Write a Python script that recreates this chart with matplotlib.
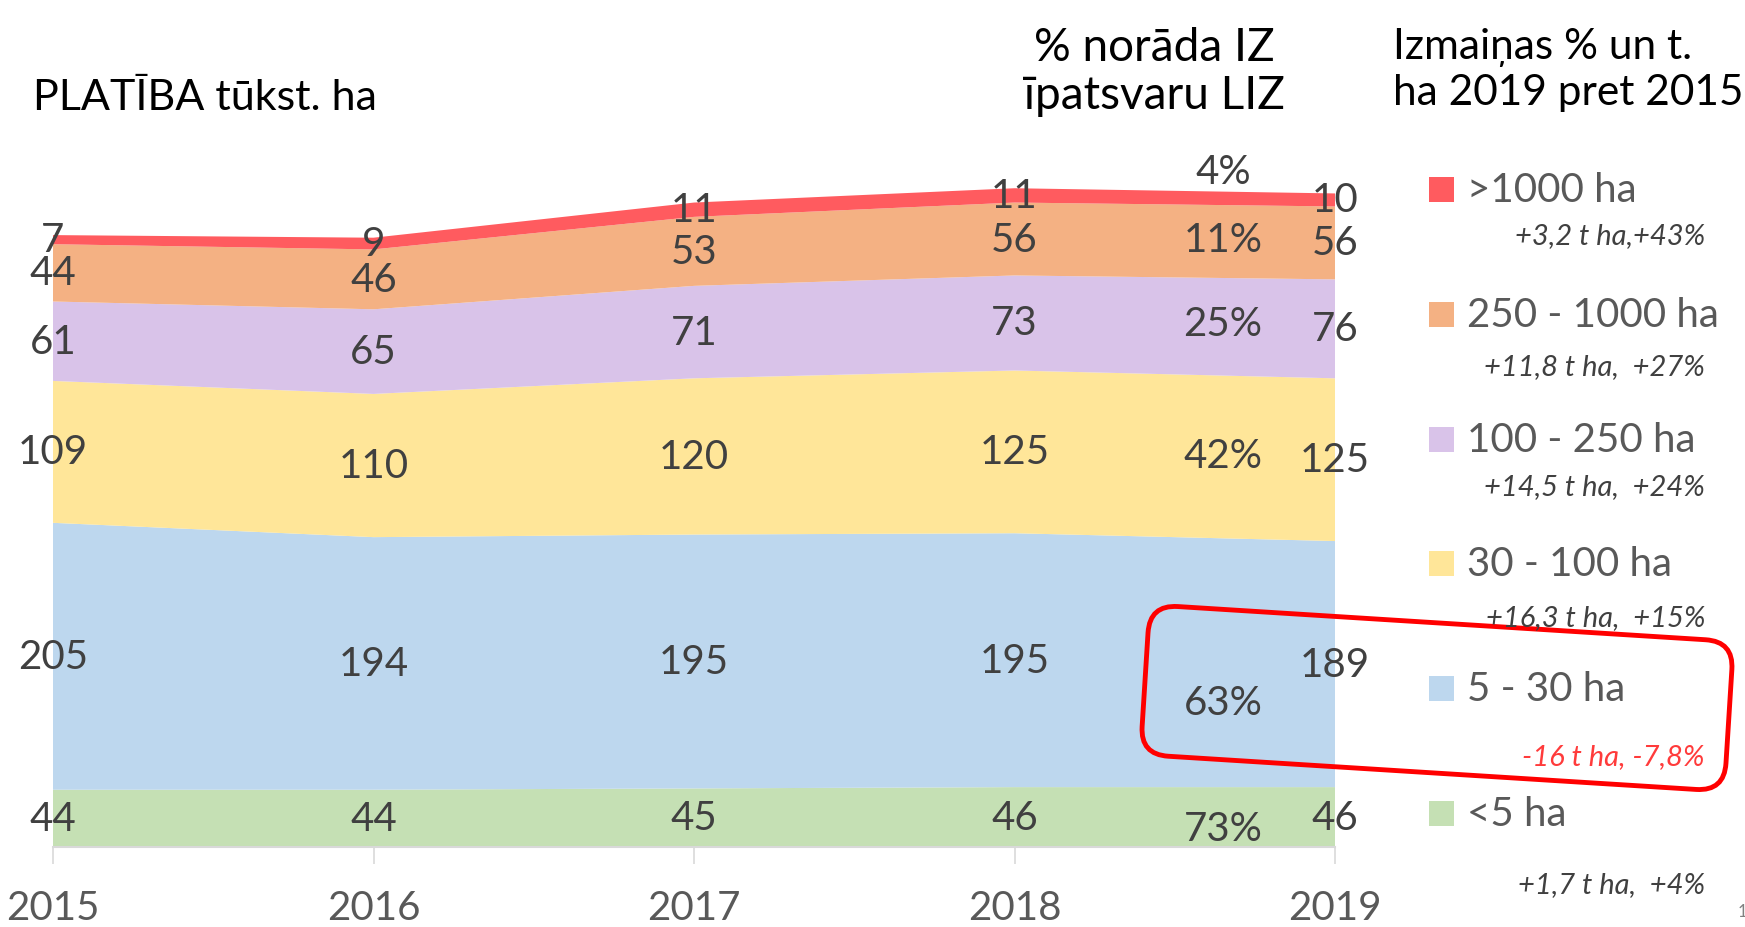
import matplotlib as mpl
import matplotlib.pyplot as plt
import numpy as np
from matplotlib.patches import FancyBboxPatch, Rectangle
from matplotlib.transforms import Affine2D

W, H = 1745, 928

years = [2015, 2016, 2017, 2018, 2019]
groups = ["<5 ha", "5 - 30 ha", "30 - 100 ha", "100 - 250 ha", "250 - 1000 ha", ">1000 ha"]
lt5 = [44, 44, 45, 46, 46]
s5_30 = [205, 194, 195, 195, 189]
s30_100 = [109, 110, 120, 125, 125]
s100_250 = [61, 65, 71, 73, 76]
s250_1000 = [44, 46, 53, 56, 56]
gt1000 = [7, 9, 11, 11, 10]
shares = ["73%", "63%", "42%", "25%", "11%", "4%"]
changes = ["+1,7 t ha,  +4%", "-16 t ha, -7,8%", "+16,3 t ha,  +15%",
           "+14,5 t ha,  +24%", "+11,8 t ha,  +27%", "+3,2 t ha,+43%"]

colors = ["#C5E0B4", "#BDD7EE", "#FFE699", "#D9C3E9", "#F4B183", "#FF5B5F"]
FONT = ["Lato", "DejaVu Sans"]
mpl.rcParams["font.family"] = FONT

series = [lt5, s5_30, s30_100, s100_250, s250_1000, gt1000]


def fx(px):
    return px / W


def fy(py):
    return 1 - py / H


fig = plt.figure(figsize=(W / 100, H / 100), dpi=100)
ax = fig.add_axes([fx(53), fy(848), fx(1335) - fx(53), fy(171) - fy(848)])
ax.stackplot(years, *series, colors=colors, linewidth=0)
ax.set_xlim(2015, 2019)
ax.set_ylim(0, 520)

for s in ["top", "right", "left"]:
    ax.spines[s].set_visible(False)
ax.spines["bottom"].set_color("#D9D9D9")
ax.spines["bottom"].set_linewidth(1.5)
ax.set_yticks([])
ax.set_xticks(years)
ax.tick_params(axis="x", length=12, width=1.2, color="#D9D9D9", pad=18,
               labelsize=29, labelcolor="#595959")

# value labels in each band
base = np.zeros(len(years))
for vals in series:
    v = np.array(vals)
    for x, b, val in zip(years, base, v):
        ax.text(x, b + val / 2, str(val), ha="center", va="center",
                fontsize=29, color="#404040", clip_on=False)
    base += v

# share labels (2019)
share_y = [14, 111, 301, 402, 467, 519]
for lab, y in zip(shares, share_y):
    ax.text(2018.65, y, lab, ha="center", va="center", fontsize=29,
            color="#404040", clip_on=False)

# titles
fig.text(fx(33), fy(98), "PLATĪBA tūkst. ha", ha="left", va="center",
         fontsize=31, color="black")
fig.text(fx(1154), fy(72), "% norāda IZ\nīpatsvaru LIZ", ha="center", va="center",
         fontsize=33, color="black", linespacing=1.2)
fig.text(fx(1393), fy(70), "Izmaiņas % un t.\nha 2019 pret 2015", ha="left",
         va="center", fontsize=30.5, color="black", linespacing=1.2)

# legend
leg_y = [815, 690, 565, 441, 316, 191]
sub_y = [885, 757, 618, 487, 367, 236]
for name, col, ly, sy, ch in zip(groups, colors, leg_y, sub_y, changes):
    fig.patches.append(Rectangle((fx(1429), fy(ly + 12)), fx(25), 25 / H,
                                 transform=fig.transFigure, facecolor=col,
                                 edgecolor="none"))
    fig.text(fx(1467), fy(ly), name, ha="left", va="center", fontsize=29,
             color="#595959")
    ccol = "#FF3B3B" if name == "5 - 30 ha" else "#404040"
    fig.text(fx(1705), fy(sy), ch, ha="right", va="center", fontsize=21,
             style="italic", color=ccol)

# red highlight box
cx, cy = 1437 / 100, (H - 699) / 100
bw, bh = 5.85, 1.50
tr = Affine2D().rotate_deg_around(cx, cy, -3.6) + fig.dpi_scale_trans
box = FancyBboxPatch((cx - bw / 2, cy - bh / 2), bw, bh,
                     boxstyle="round,pad=0,rounding_size=0.28",
                     facecolor="none", edgecolor="#FF0000", linewidth=3.5,
                     transform=tr)
fig.patches.append(box)

fig.text(fx(1738), fy(912), "1", ha="left", va="center", fontsize=12,
         color="#808080")

fig.savefig("out.png", dpi=100)
